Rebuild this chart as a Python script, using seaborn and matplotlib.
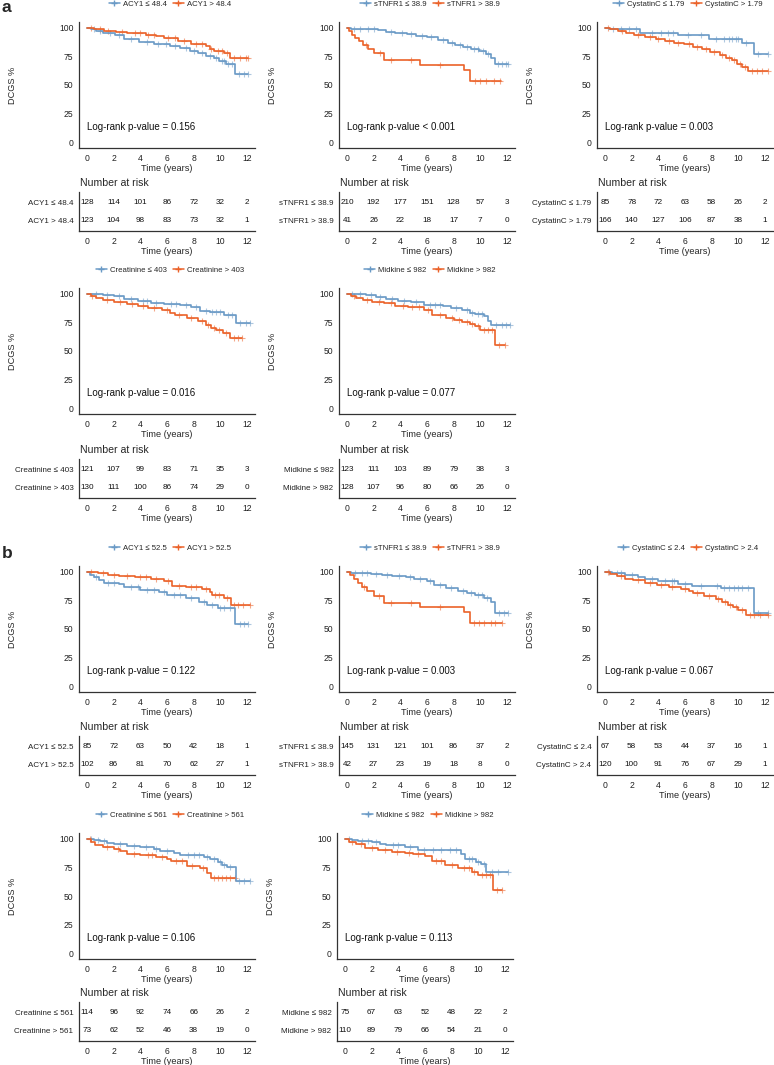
import numpy as np
import pandas as pd
import matplotlib
matplotlib.use("Agg")
import matplotlib.pyplot as plt
from matplotlib.lines import Line2D
import seaborn as sns

sns.set_style("white")
plt.rcParams['font.family'] = ['Liberation Sans', 'DejaVu Sans']

BLUE = "#6A9AC6"
ORANGE = "#EB6229"
AXCOL = "#333333"

risk_times = [0, 2, 4, 6, 8, 10, 12]

# ---------------- panel a ----------------
# ACY1
a_acy1_labels = ["ACY1 ≤ 48.4", "ACY1 > 48.4"]
a_acy1_lo_t = [0, 0.3, 0.7, 1.2, 2.1, 2.8, 3.9, 5.0, 6.2, 7.0, 7.7, 8.3, 8.9, 9.5, 9.9, 10.4, 11.1]
a_acy1_lo_s = [100, 98.5, 97, 95.5, 94, 90, 87.5, 86, 84, 82.5, 80, 78, 75.5, 73.5, 71, 68.5, 60]
a_acy1_lo_c = [0.5, 1.0, 1.7, 2.4, 3.3, 4.5, 5.3, 5.9, 6.6, 7.4, 8.0, 8.6, 9.2, 9.7, 10.1, 10.3, 10.6, 10.9, 11.4, 11.8, 12.1]
a_acy1_hi_t = [0, 0.5, 1.3, 2.2, 3.0, 4.4, 5.2, 5.8, 6.8, 7.8, 8.9, 9.2, 9.5, 10.3, 10.7]
a_acy1_hi_s = [100, 99, 97.5, 96, 95, 94, 92.5, 91, 88.5, 86, 84, 81.5, 80, 78, 74]
a_acy1_hi_c = [0.3, 1.0, 1.6, 2.6, 3.6, 4.0, 4.6, 5.0, 6.1, 6.6, 7.3, 8.2, 8.6, 9.3, 9.8, 10.1, 10.5, 11.0, 11.5, 11.9, 12.1]
a_acy1_ends = [12.1, 12.1]
a_acy1_risk_lo = [128, 114, 101, 86, 72, 32, 2]
a_acy1_risk_hi = [123, 104, 98, 83, 73, 32, 1]

# sTNFR1
a_tnf_labels = ["sTNFR1 ≤ 38.9", "sTNFR1 > 38.9"]
a_tnf_lo_t = [0, 0.3, 2.3, 2.9, 3.6, 4.5, 5.2, 6.0, 6.8, 7.6, 8.1, 8.7, 9.3, 9.9, 10.4, 10.8, 11.1]
a_tnf_lo_s = [100, 99, 98, 96.5, 95.5, 94.5, 93, 92, 89.5, 87, 84.5, 83, 81.5, 79.5, 77, 74, 68.5]
a_tnf_lo_c = [0.5, 1.0, 1.6, 2.0, 3.3, 4.1, 4.8, 5.6, 6.3, 7.2, 7.9, 8.5, 9.0, 9.5, 9.8, 10.2, 10.6, 11.3, 11.6, 11.9, 12.1]
a_tnf_hi_t = [0, 0.15, 0.4, 0.6, 0.9, 1.2, 1.6, 2.0, 2.8, 5.5, 8.8, 9.2]
a_tnf_hi_s = [100, 97, 94, 91, 88, 84.5, 81, 78, 71.5, 67.5, 63, 53.5]
a_tnf_hi_c = [1.4, 2.5, 3.3, 4.8, 7.0, 9.6, 10.0, 10.4, 11.0, 11.5]
a_tnf_ends = [12.1, 11.55]
a_tnf_risk_lo = [210, 192, 177, 151, 128, 57, 3]
a_tnf_risk_hi = [41, 26, 22, 18, 17, 7, 0]

# CystatinC
a_cys_labels = ["CystatinC ≤ 1.79", "CystatinC > 1.79"]
a_cys_lo_t = [0, 0.3, 2.6, 5.5, 7.8, 10.3, 11.15]
a_cys_lo_s = [100, 99, 95, 93.5, 90.5, 86.5, 77]
a_cys_lo_c = [0.6, 1.2, 1.8, 2.3, 3.5, 4.2, 4.7, 5.1, 6.2, 7.2, 8.3, 8.9, 9.3, 9.5, 9.8, 10.0, 10.6, 11.5, 12.2]
a_cys_hi_t = [0, 0.4, 1.0, 1.6, 2.2, 3.0, 3.8, 4.5, 5.2, 5.9, 6.6, 7.3, 7.9, 8.6, 9.1, 9.5, 9.9, 10.3, 10.7]
a_cys_hi_s = [100, 98.5, 97, 95.5, 94, 92, 90, 88.5, 87, 85.5, 83.5, 81, 78.5, 76.5, 74, 71.5, 68.5, 65.5, 62.5]
a_cys_hi_c = [0.2, 1.3, 2.5, 3.4, 4.0, 4.8, 5.5, 6.3, 6.9, 7.6, 8.2, 8.8, 9.3, 9.7, 10.1, 10.5, 11.0, 11.4, 11.8, 12.2]
a_cys_ends = [12.2, 12.2]
a_cys_risk_lo = [85, 78, 72, 63, 58, 26, 2]
a_cys_risk_hi = [166, 140, 127, 106, 87, 38, 1]

# Creatinine
a_cre_labels = ["Creatinine ≤ 403", "Creatinine > 403"]
a_cre_lo_t = [0, 0.5, 1.2, 2.0, 2.8, 3.8, 4.8, 5.8, 7.0, 7.8, 8.5, 9.2, 10.3, 11.15]
a_cre_lo_s = [100, 99.5, 99, 98, 95, 93.5, 92, 91, 90, 88, 85, 84, 81, 74.5]
a_cre_lo_c = [0.7, 1.5, 2.4, 3.3, 4.2, 4.5, 5.2, 6.3, 6.7, 7.4, 8.2, 8.9, 9.4, 9.7, 10.0, 10.6, 10.9, 11.5, 11.9, 12.2]
a_cre_hi_t = [0, 0.3, 0.7, 1.2, 2.0, 3.0, 3.8, 4.6, 5.6, 6.2, 6.6, 7.5, 8.3, 8.9, 9.3, 9.7, 10.2, 10.7]
a_cre_hi_s = [100, 98, 96, 94.5, 92.5, 91, 89, 87.5, 85.5, 83, 81, 78.5, 76, 73, 70.5, 68, 65.5, 61]
a_cre_hi_c = [0.4, 1.5, 2.5, 3.4, 4.2, 5.0, 6.0, 6.9, 7.8, 8.6, 9.1, 9.5, 9.9, 10.4, 11.0, 11.3, 11.6]
a_cre_ends = [12.2, 11.6]
a_cre_risk_lo = [121, 107, 99, 83, 71, 35, 3]
a_cre_risk_hi = [130, 111, 100, 86, 74, 29, 0]

# Midkine
a_mid_labels = ["Midkine ≤ 982", "Midkine > 982"]
a_mid_lo_t = [0, 0.6, 1.4, 2.2, 2.9, 3.8, 4.8, 5.8, 7.2, 7.8, 8.6, 9.2, 9.6, 10.3, 10.6, 10.8]
a_mid_lo_s = [100, 99.5, 98.5, 97.5, 95.5, 94, 92.5, 90.5, 89.5, 87.5, 85.5, 83, 82, 80.5, 76, 73]
a_mid_lo_c = [0.4, 1.0, 1.8, 2.5, 3.4, 4.3, 5.2, 6.2, 6.6, 7.0, 8.2, 9.0, 9.4, 9.8, 10.1, 11.2, 11.6, 11.9, 12.2]
a_mid_hi_t = [0, 0.3, 0.7, 1.2, 1.9, 2.8, 3.6, 4.6, 5.8, 6.4, 7.4, 8.0, 8.6, 9.2, 9.6, 10.0, 11.1]
a_mid_hi_s = [100, 98, 96, 94.5, 93, 91.5, 89.5, 88.5, 85.5, 81.5, 78.5, 77, 75.5, 74, 72, 68.5, 55]
a_mid_hi_c = [0.5, 1.5, 2.4, 3.3, 4.2, 4.9, 5.4, 6.1, 7.0, 7.9, 8.4, 9.0, 9.4, 9.8, 10.3, 10.6, 10.9, 11.4, 11.85]
a_mid_ends = [12.2, 11.85]
a_mid_risk_lo = [123, 111, 103, 89, 79, 38, 3]
a_mid_risk_hi = [128, 107, 96, 80, 66, 26, 0]

a_pvals = ["Log-rank p-value = 0.156", "Log-rank p-value < 0.001", "Log-rank p-value = 0.003",
           "Log-rank p-value = 0.016", "Log-rank p-value = 0.077"]

# ---------------- panel b ----------------
b_acy1_labels = ["ACY1 ≤ 52.5", "ACY1 > 52.5"]
b_acy1_lo_t = [0, 0.2, 0.5, 0.9, 1.3, 2.4, 2.8, 4.0, 5.4, 6.0, 7.4, 8.4, 9.0, 9.8, 11.1]
b_acy1_lo_s = [100, 97.5, 95, 92.5, 90.5, 89, 86.5, 84, 82.5, 79.5, 77, 73.5, 71, 68, 54.5]
b_acy1_lo_c = [0.7, 1.6, 2.0, 3.3, 3.8, 4.5, 5.0, 5.8, 6.5, 7.0, 7.8, 8.8, 9.4, 10.0, 10.3, 10.7, 11.5, 11.8, 12.1]
b_acy1_hi_t = [0, 0.8, 1.6, 2.4, 3.6, 4.8, 5.8, 6.4, 7.4, 8.6, 9.2, 9.4, 10.3, 10.8]
b_acy1_hi_s = [100, 99, 97.5, 96, 95, 93.5, 91.5, 87.5, 86.5, 85, 82, 79.5, 77, 71]
b_acy1_hi_c = [0.3, 1.2, 2.0, 3.0, 4.0, 4.4, 5.2, 6.1, 6.9, 7.8, 8.2, 8.9, 9.6, 9.9, 10.5, 11.0, 11.3, 11.7, 12.2]
b_acy1_ends = [12.1, 12.2]
b_acy1_risk_lo = [85, 72, 63, 50, 42, 18, 1]
b_acy1_risk_hi = [102, 86, 81, 70, 62, 27, 1]

b_tnf_labels = ["sTNFR1 ≤ 38.9", "sTNFR1 > 38.9"]
b_tnf_lo_t = [0, 0.3, 1.8, 2.6, 3.4, 4.4, 5.0, 6.0, 6.5, 7.4, 8.3, 9.0, 9.6, 10.3, 10.8, 11.1]
b_tnf_lo_s = [100, 98.5, 98, 97, 96, 95, 93.5, 91.5, 88.5, 86, 83.5, 81.5, 80, 77, 74, 64]
b_tnf_lo_c = [0.6, 1.1, 1.5, 2.2, 3.0, 3.9, 4.7, 5.5, 6.2, 7.0, 7.8, 8.7, 9.3, 9.8, 10.1, 10.5, 11.4, 11.8, 12.1]
b_tnf_hi_t = [0, 0.2, 0.5, 0.8, 1.1, 1.5, 2.0, 2.8, 5.5, 8.8, 9.2]
b_tnf_hi_s = [100, 97, 93.5, 90, 86.5, 83.5, 79, 72.5, 69, 64.5, 55]
b_tnf_hi_c = [1.3, 2.4, 3.3, 4.8, 7.0, 9.5, 9.9, 10.3, 10.8, 11.1, 11.6]
b_tnf_ends = [12.1, 11.6]
b_tnf_risk_lo = [145, 131, 121, 101, 86, 37, 2]
b_tnf_risk_hi = [42, 27, 23, 19, 18, 8, 0]

b_cys_labels = ["CystatinC ≤ 2.4", "CystatinC > 2.4"]
b_cys_lo_t = [0, 0.5, 1.5, 2.5, 3.0, 4.0, 5.5, 6.5, 8.7, 11.15]
b_cys_lo_s = [100, 98.5, 97, 95.5, 93.5, 92, 89.5, 87.5, 85.5, 64]
b_cys_lo_c = [0.3, 0.9, 1.2, 2.0, 3.5, 4.5, 5.0, 5.2, 6.0, 7.2, 8.4, 8.9, 9.3, 9.7, 10.0, 10.3, 10.7, 11.5, 12.2]
b_cys_hi_t = [0, 0.4, 0.9, 1.5, 2.1, 3.0, 3.9, 4.8, 5.7, 6.3, 6.6, 7.4, 8.3, 8.8, 9.2, 9.6, 10.0, 10.6]
b_cys_hi_s = [100, 98, 96, 94, 92.5, 90.5, 88.5, 87, 85, 83, 81, 78.5, 76, 74, 71, 69, 67, 62]
b_cys_hi_c = [0.2, 1.2, 2.5, 3.4, 4.2, 5.0, 6.0, 6.9, 7.8, 8.5, 9.0, 9.4, 9.8, 10.3, 10.9, 11.2, 11.6, 12.2]
b_cys_ends = [12.2, 12.2]
b_cys_risk_lo = [67, 58, 53, 44, 37, 16, 1]
b_cys_risk_hi = [120, 100, 91, 76, 67, 29, 1]

b_cre_labels = ["Creatinine ≤ 561", "Creatinine > 561"]
b_cre_lo_t = [0, 0.5, 1.0, 1.5, 2.0, 3.0, 4.0, 5.0, 5.5, 6.5, 7.0, 8.8, 9.2, 9.8, 10.1, 10.5, 11.15]
b_cre_lo_s = [100, 99, 98, 96.5, 95.5, 94, 92.5, 91, 89.5, 87.5, 85.5, 84, 82.5, 80, 77.5, 75, 63.5]
b_cre_lo_c = [0.3, 0.8, 1.3, 2.5, 3.5, 4.4, 5.2, 6.0, 7.6, 8.0, 8.4, 9.0, 9.5, 10.0, 10.3, 10.7, 11.4, 11.8, 12.2]
b_cre_hi_t = [0, 0.3, 0.6, 1.2, 2.0, 2.5, 3.0, 4.0, 5.2, 6.0, 6.3, 7.5, 8.5, 9.0, 9.3]
b_cre_hi_s = [100, 97, 94.5, 92.5, 91, 89.5, 87, 85.5, 84, 82.5, 80.5, 76.5, 74.5, 70.5, 65.5]
b_cre_hi_c = [0.2, 1.5, 2.3, 3.5, 4.6, 4.9, 5.6, 6.7, 7.1, 7.9, 8.7, 9.5, 9.8, 10.1, 10.4, 10.7, 11.1]
b_cre_ends = [12.2, 11.1]
b_cre_risk_lo = [114, 96, 92, 74, 66, 26, 2]
b_cre_risk_hi = [73, 62, 52, 46, 38, 19, 0]

b_mid_labels = ["Midkine ≤ 982", "Midkine > 982"]
b_mid_lo_t = [0, 0.5, 1.0, 2.0, 2.6, 3.1, 4.5, 5.5, 8.7, 9.0, 9.8, 10.2, 10.6]
b_mid_lo_s = [100, 99, 98, 97, 95.5, 94.5, 92.5, 90, 86.5, 82, 79.5, 78, 71]
b_mid_lo_c = [0.3, 1.3, 1.7, 2.3, 3.6, 4.0, 4.9, 5.9, 6.6, 7.2, 7.9, 8.3, 9.3, 9.5, 10.0, 10.4, 11.0, 11.5, 12.2]
b_mid_hi_t = [0, 0.3, 0.8, 1.5, 2.5, 3.5, 4.5, 5.1, 6.0, 6.5, 7.5, 8.5, 9.5, 10.0, 11.1]
b_mid_hi_s = [100, 97.5, 95, 92, 90, 88.5, 87.5, 86.5, 84.5, 80.5, 77.5, 74.5, 71, 68.5, 55]
b_mid_hi_c = [0.5, 1.2, 2.0, 3.0, 3.9, 4.8, 5.5, 6.8, 7.2, 8.0, 8.9, 9.3, 9.7, 10.3, 10.6, 10.9, 11.4, 11.8]
b_mid_ends = [12.2, 11.8]
b_mid_risk_lo = [75, 67, 63, 52, 48, 22, 2]
b_mid_risk_hi = [110, 89, 79, 66, 54, 21, 0]

b_pvals = ["Log-rank p-value = 0.122", "Log-rank p-value = 0.003", "Log-rank p-value = 0.067",
           "Log-rank p-value = 0.106", "Log-rank p-value = 0.113"]

# panel table: (labels, curves lo/hi, ends, risk lo/hi, p-value text)
panels = [
    (a_acy1_labels, (a_acy1_lo_t, a_acy1_lo_s, a_acy1_lo_c), (a_acy1_hi_t, a_acy1_hi_s, a_acy1_hi_c), a_acy1_ends, a_acy1_risk_lo, a_acy1_risk_hi, a_pvals[0]),
    (a_tnf_labels, (a_tnf_lo_t, a_tnf_lo_s, a_tnf_lo_c), (a_tnf_hi_t, a_tnf_hi_s, a_tnf_hi_c), a_tnf_ends, a_tnf_risk_lo, a_tnf_risk_hi, a_pvals[1]),
    (a_cys_labels, (a_cys_lo_t, a_cys_lo_s, a_cys_lo_c), (a_cys_hi_t, a_cys_hi_s, a_cys_hi_c), a_cys_ends, a_cys_risk_lo, a_cys_risk_hi, a_pvals[2]),
    (a_cre_labels, (a_cre_lo_t, a_cre_lo_s, a_cre_lo_c), (a_cre_hi_t, a_cre_hi_s, a_cre_hi_c), a_cre_ends, a_cre_risk_lo, a_cre_risk_hi, a_pvals[3]),
    (a_mid_labels, (a_mid_lo_t, a_mid_lo_s, a_mid_lo_c), (a_mid_hi_t, a_mid_hi_s, a_mid_hi_c), a_mid_ends, a_mid_risk_lo, a_mid_risk_hi, a_pvals[4]),
    (b_acy1_labels, (b_acy1_lo_t, b_acy1_lo_s, b_acy1_lo_c), (b_acy1_hi_t, b_acy1_hi_s, b_acy1_hi_c), b_acy1_ends, b_acy1_risk_lo, b_acy1_risk_hi, b_pvals[0]),
    (b_tnf_labels, (b_tnf_lo_t, b_tnf_lo_s, b_tnf_lo_c), (b_tnf_hi_t, b_tnf_hi_s, b_tnf_hi_c), b_tnf_ends, b_tnf_risk_lo, b_tnf_risk_hi, b_pvals[1]),
    (b_cys_labels, (b_cys_lo_t, b_cys_lo_s, b_cys_lo_c), (b_cys_hi_t, b_cys_hi_s, b_cys_hi_c), b_cys_ends, b_cys_risk_lo, b_cys_risk_hi, b_pvals[2]),
    (b_cre_labels, (b_cre_lo_t, b_cre_lo_s, b_cre_lo_c), (b_cre_hi_t, b_cre_hi_s, b_cre_hi_c), b_cre_ends, b_cre_risk_lo, b_cre_risk_hi, b_pvals[3]),
    (b_mid_labels, (b_mid_lo_t, b_mid_lo_s, b_mid_lo_c), (b_mid_hi_t, b_mid_hi_s, b_mid_hi_c), b_mid_ends, b_mid_risk_lo, b_mid_risk_hi, b_pvals[4]),
]

# layout in pixels
W, H = 774, 1065
col_x = [79, 339, 597]
ax_w = 176
plot_tops = [22, 288, 566, 833]
plot_h = 126
table_bottoms = [231, 498, 775, 1041]
table_h = 39
# panel index -> (row, col)
grid = [(0, 0), (0, 1), (0, 2), (1, 0), (1, 1), (2, 0), (2, 1), (2, 2), (3, 0), (3, 1)]


def rect(x0, top, w, h):
    return [x0 / W, 1 - (top + h) / H, w / W, h / H]


def style_axis(ax):
    sns.despine(ax=ax)
    for sp in ['left', 'bottom']:
        ax.spines[sp].set_color(AXCOL)
        ax.spines[sp].set_linewidth(0.9)
    ax.tick_params(axis='both', which='both', length=2.5, width=0.7, color=AXCOL,
                   labelsize=6.2, labelcolor="#222222", pad=1.5, direction='out')
    ax.set_xlim(-0.6, 12.6)
    ax.set_xticks(risk_times)


def draw_curve(ax, t, s, c, end, color):
    xs = list(t) + [end]
    ys = list(s) + [s[-1]]
    sns.lineplot(x=xs, y=ys, ax=ax, color=color, linewidth=1.2, drawstyle='steps-post',
                 estimator=None, sort=False)
    # censor marks sit on the step curve
    idx = np.searchsorted(np.array(t), np.array(c), side='right') - 1
    cs = np.array(s)[idx]
    sns.scatterplot(x=c, y=cs, ax=ax, marker='+', s=20, color=color, alpha=0.55,
                    linewidth=0.8)


fig = plt.figure(figsize=(W / 100, H / 100), dpi=100)

for k, (labels, lo, hi, ends, risk_lo, risk_hi, pval) in enumerate(panels):
    row, col = grid[k]
    x0 = col_x[col]
    if row == 3 and col == 1:
        x0 = 337
    # survival plot
    ax = fig.add_axes(rect(x0, plot_tops[row], ax_w, plot_h))
    draw_curve(ax, lo[0], lo[1], lo[2], ends[0], BLUE)
    draw_curve(ax, hi[0], hi[1], hi[2], ends[1], ORANGE)
    style_axis(ax)
    ax.set_ylim(-5, 105)
    ax.set_yticks([0, 25, 50, 75, 100])
    ax.set_xlabel("Time (years)", fontsize=6.6, labelpad=1)
    ax.set_ylabel("DCGS %", fontsize=6.6)
    ax.yaxis.set_label_coords(-0.35, 0.5)
    ax.text(0, 13, pval, fontsize=7, ha='left', va='center', color="#111111")

    handles = [Line2D([0], [0], color=BLUE, lw=1.1, marker='+', markersize=4),
               Line2D([0], [0], color=ORANGE, lw=1.1, marker='+', markersize=4)]
    cx = (x0 + ax_w / 2 + 3) / W
    cy = 1 - (plot_tops[row] - 18) / H
    ax.legend(handles, labels, loc='center', bbox_to_anchor=(cx, cy), bbox_transform=fig.transFigure,
              ncol=2, frameon=False, fontsize=5.6, handlelength=1.4, columnspacing=0.8,
              handletextpad=0.4, borderpad=0)

    # number at risk table
    tb = fig.add_axes(rect(x0, table_bottoms[row] - table_h, ax_w, table_h))
    style_axis(tb)
    tb.set_ylim(2.6, 0.4)
    tb.set_yticks([1, 2])
    tb.set_yticklabels(labels, fontsize=5.8)
    for tt, n1, n2 in zip(risk_times, risk_lo, risk_hi):
        tb.text(tt, 1, str(n1), ha='center', va='center', fontsize=5.9, color="#111111")
        tb.text(tt, 2, str(n2), ha='center', va='center', fontsize=5.9, color="#111111")
    tb.set_xlabel("Time (years)", fontsize=6.6, labelpad=1)
    tb.set_ylabel("")
    tb.set_title("Number at risk", loc='left', fontsize=7.6, pad=4, x=0.005)

fig.text(2 / W, 1 - 8 / H, "a", fontsize=12.5, fontweight='bold', va='center', ha='left')
fig.text(2 / W, 1 - 553 / H, "b", fontsize=12.5, fontweight='bold', va='center', ha='left')

fig.savefig("out.png", dpi=100)
plt.close(fig)
